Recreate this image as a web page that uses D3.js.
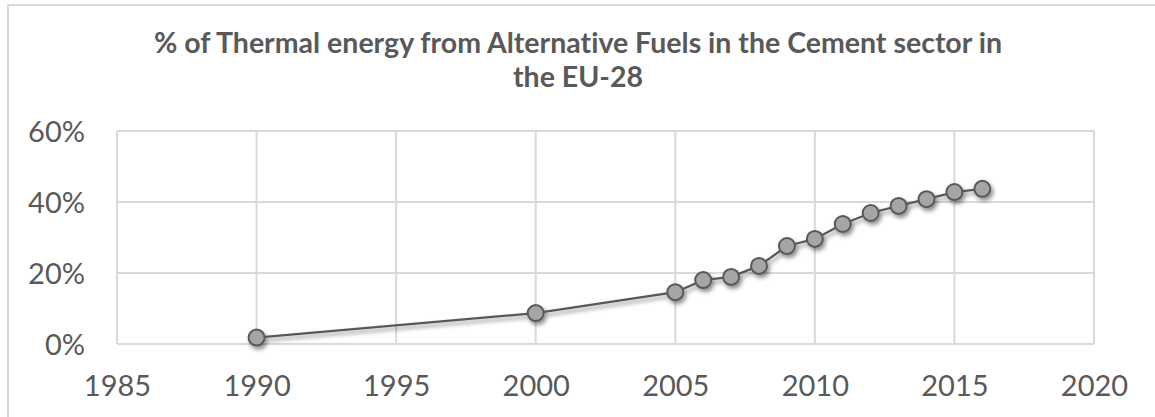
<!DOCTYPE html>
<html>
<head>
<meta charset="utf-8">
<script src="https://cdn.jsdelivr.net/npm/d3@7"></script>
<style>
  body { margin: 0; background: #fff; }
  text { font-family: Lato, "Open Sans", sans-serif; fill: #595959; font-variant-ligatures: none; }
</style>
</head>
<body>
<div id="chart"></div>
<script>
// data
const years = [1990, 2000, 2005, 2006, 2007, 2008, 2009, 2010, 2011, 2012, 2013, 2014, 2015, 2016]
const shares = [0.018, 0.087, 0.146, 0.18, 0.189, 0.22, 0.276, 0.296, 0.338, 0.369, 0.389, 0.408, 0.428, 0.437]
const xTicks = [1985, 1990, 1995, 2000, 2005, 2010, 2015, 2020]
const yTicks = [0, 0.2, 0.4, 0.6]
const titleLines = ["% of Thermal energy from Alternative Fuels in the Cement sector in", "the EU-28"]

const W = 1155, H = 417
const margin = {top: 131, right: 61, bottom: 73, left: 117}
const plotW = W - margin.left - margin.right
const plotH = H - margin.top - margin.bottom

function translate(x, y) { return `translate(${x}, ${y})` }

const svg = d3.select("#chart").append("svg").attr("width", W).attr("height", H)

// chart border (cropped on right/bottom in the reference)
svg.append("rect").attr("x", 8).attr("y", 5).attr("width", W + 10).attr("height", H + 10)
  .attr("fill", "#fff").attr("stroke", "#d9d9d9").attr("stroke-width", 2)

const defs = svg.append("defs")
const shadow = defs.append("filter").attr("id", "shadow").attr("x", "-50%").attr("y", "-50%").attr("width", "200%").attr("height", "200%")
shadow.append("feDropShadow").attr("dx", 2).attr("dy", 3).attr("stdDeviation", 2)
  .attr("flood-color", "#000").attr("flood-opacity", 0.45)

// title
svg.append("text").attr("x", 578).attr("y", 53).attr("text-anchor", "middle")
  .style("font-size", "28.5px").style("font-weight", "bold")
  .selectAll("tspan").data(titleLines).join("tspan")
  .attr("x", 578).attr("dy", (d, i) => i === 0 ? 0 : 34).text(d => d)

const x = d3.scaleLinear().domain([1985, 2020]).range([0, plotW])
const y = d3.scaleLinear().domain([0, 0.6]).range([plotH, 0])

const g = svg.append("g").attr("transform", translate(margin.left, margin.top))

// gridlines
g.append("g").selectAll("line").data(xTicks).join("line")
  .attr("x1", d => x(d)).attr("x2", d => x(d)).attr("y1", 0).attr("y2", plotH)
  .attr("stroke", "#d9d9d9").attr("stroke-width", 2)
g.append("g").selectAll("line").data(yTicks).join("line")
  .attr("x1", 0).attr("x2", plotW).attr("y1", d => y(d)).attr("y2", d => y(d))
  .attr("stroke", "#d9d9d9").attr("stroke-width", 2)

// axes (labels only)
const xAxis = d3.axisBottom(x).tickValues(xTicks).tickFormat(d3.format("d")).tickSize(0).tickPadding(52)
const yAxis = d3.axisLeft(y).tickValues(yTicks).tickFormat(d3.format(".0%")).tickSize(0).tickPadding(32)
const xg = g.append("g").attr("transform", translate(0, plotH)).call(xAxis)
const yg = g.append("g").call(yAxis)
;[xg, yg].forEach(a => {
  a.select(".domain").remove()
  a.selectAll("text").style("font-size", "29px").attr("fill", "#595959")
    .style("font-family", "Lato, 'Open Sans', sans-serif")
})
xg.selectAll("text").attr("dy", 0)
yg.selectAll("text").attr("dy", "0.36em")

// series
const pts = years.map((yr, i) => ({year: yr, v: shares[i]}))
const line = d3.line().x(d => x(d.year)).y(d => y(d.v))
const series = g.append("g").attr("filter", "url(#shadow)")
series.append("path").datum(pts).attr("d", line)
  .attr("fill", "none").attr("stroke", "#595959").attr("stroke-width", 2.25)
series.selectAll("circle").data(pts).join("circle")
  .attr("cx", d => x(d.year)).attr("cy", d => y(d.v)).attr("r", 8)
  .attr("fill", "#a5a5a5").attr("stroke", "#595959").attr("stroke-width", 2)
</script>
</body>
</html>
